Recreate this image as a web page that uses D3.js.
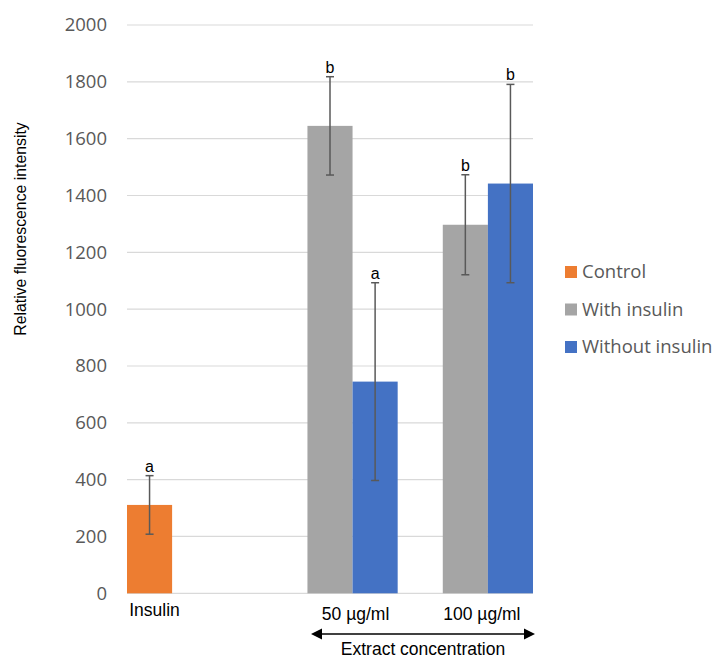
<!DOCTYPE html>
<html>
<head>
<meta charset="utf-8">
<script src="https://cdn.jsdelivr.net/npm/d3@7"></script>
<style>
  html, body { margin: 0; padding: 0; background: #fff; }
  svg { display: block; }
</style>
</head>
<body>
<svg id="chart" width="717" height="659"></svg>
<script>
const categories = ["Insulin", "50 µg/ml", "100 µg/ml"];
const series = ["Control", "With insulin", "Without insulin"];
const colors = ["#ED7D31", "#A5A5A5", "#4472C4"];
// values per series per category (null = no bar)
const controlValues = [311, null, null];
const withInsulinValues = [null, 1645, 1297];
const withoutInsulinValues = [null, 745, 1442];
const controlErr = [103, null, null];
const withInsulinErr = [null, 173, 176];
const withoutInsulinErr = [null, 348, 349];
const controlLetters = ["a", null, null];
const withInsulinLetters = [null, "b", "b"];
const withoutInsulinLetters = [null, "a", "b"];
const yTicks = [0, 200, 400, 600, 800, 1000, 1200, 1400, 1600, 1800, 2000];

const values = [controlValues, withInsulinValues, withoutInsulinValues];
const errs = [controlErr, withInsulinErr, withoutInsulinErr];
const letters = [controlLetters, withInsulinLetters, withoutInsulinLetters];

const svg = d3.select("#chart");
const mLeft = 127, mRight = 533, mTop = 25, mBottom = 593.3;

const y = d3.scaleLinear().domain([0, 2000]).range([mBottom, mTop]);
const x0 = d3.scaleBand().domain(categories).range([mLeft, mRight]).paddingInner(0).paddingOuter(0);
const x1 = d3.scaleBand().domain(series).range([0, x0.bandwidth()]).padding(0);

// gridlines
svg.append("g").selectAll("line").data(yTicks).join("line")
  .attr("x1", mLeft).attr("x2", mRight)
  .attr("y1", d => y(d)).attr("y2", d => y(d))
  .attr("stroke", "#D9D9D9").attr("stroke-width", 1.2);

// y tick labels
svg.append("g").selectAll("text").data(yTicks).join("text")
  .attr("x", 107).attr("y", d => y(d)).attr("dy", "0.35em")
  .attr("text-anchor", "end")
  .attr("font-family", "'Open Sans', sans-serif").attr("font-size", 18.5)
  .attr("fill", "#595959")
  .text(d => d);

// y axis title
svg.append("text")
  .attr("transform", "translate(26,229) rotate(-90)")
  .attr("text-anchor", "middle")
  .attr("font-family", "Arial, 'Liberation Sans', sans-serif").attr("font-size", 15.8)
  .attr("fill", "#000")
  .text("Relative fluorescence intensity");

// bars
const rows = [];
series.forEach((s, si) => {
  categories.forEach((c, ci) => {
    const v = values[si][ci];
    if (v != null) rows.push({s, si, c, v, e: errs[si][ci], l: letters[si][ci]});
  });
});

svg.append("g").selectAll("rect").data(rows).join("rect")
  .attr("x", d => x0(d.c) + x1(d.s))
  .attr("width", x1.bandwidth())
  .attr("y", d => y(d.v))
  .attr("height", d => y(0) - y(d.v))
  .attr("fill", d => colors[d.si]);

// error bars
const eg = svg.append("g").attr("stroke", "#595959").attr("stroke-width", 1.5);
rows.forEach(d => {
  const cx = x0(d.c) + x1(d.s) + x1.bandwidth() / 2;
  eg.append("line").attr("x1", cx).attr("x2", cx).attr("y1", y(d.v + d.e)).attr("y2", y(d.v - d.e));
  [d.v + d.e, d.v - d.e].forEach(v => {
    eg.append("line").attr("x1", cx - 4).attr("x2", cx + 4).attr("y1", y(v)).attr("y2", y(v));
  });
});

// letters
svg.append("g").selectAll("text").data(rows).join("text")
  .attr("x", d => x0(d.c) + x1(d.s) + x1.bandwidth() / 2)
  .attr("y", d => y(d.v + d.e) - 4)
  .attr("text-anchor", "middle")
  .attr("font-family", "Arial, 'Liberation Sans', sans-serif").attr("font-size", 16)
  .attr("fill", "#000")
  .text(d => d.l);

// x category labels
const labelX = [
  x0(categories[0]) + x1(series[0]) + x1.bandwidth() / 2 + 5,
  x0(categories[1]) + x1(series[1]) + x1.bandwidth() + 3,
  x0(categories[2]) + x1(series[1]) + x1.bandwidth() - 6
];
const labelY = [616, 620, 620];
svg.append("g").selectAll("text").data(categories).join("text")
  .attr("x", (d, i) => labelX[i]).attr("y", (d, i) => labelY[i])
  .attr("text-anchor", "middle")
  .attr("font-family", "Arial, 'Liberation Sans', sans-serif").attr("font-size", 17.5)
  .attr("fill", "#000")
  .text(d => d);

// arrow
const ax1 = 311, ax2 = 535, ay = 634;
svg.append("line").attr("x1", ax1 + 8).attr("x2", ax2 - 8).attr("y1", ay).attr("y2", ay)
  .attr("stroke", "#000").attr("stroke-width", 1.5);
svg.append("path").attr("d", `M${ax1},${ay} L${ax1 + 11},${ay - 5.5} L${ax1 + 11},${ay + 5.5} Z`).attr("fill", "#000");
svg.append("path").attr("d", `M${ax2},${ay} L${ax2 - 11},${ay - 5.5} L${ax2 - 11},${ay + 5.5} Z`).attr("fill", "#000");
svg.append("text").attr("x", 423).attr("y", 655)
  .attr("text-anchor", "middle")
  .attr("font-family", "Arial, 'Liberation Sans', sans-serif").attr("font-size", 17.5)
  .attr("fill", "#000")
  .text("Extract concentration");

// legend
const lg = svg.append("g").attr("transform", "translate(565,272)");
series.forEach((s, i) => {
  const g = lg.append("g").attr("transform", `translate(0,${i * 37.5})`);
  g.append("rect").attr("x", 0).attr("y", -6).attr("width", 12).attr("height", 12).attr("fill", colors[i]);
  g.append("text").attr("x", 17).attr("y", 0).attr("dy", "0.35em")
    .attr("font-family", "'Open Sans', sans-serif").attr("font-size", 18.5)
    .attr("fill", "#595959")
    .text(s);
});
</script>
</body>
</html>
